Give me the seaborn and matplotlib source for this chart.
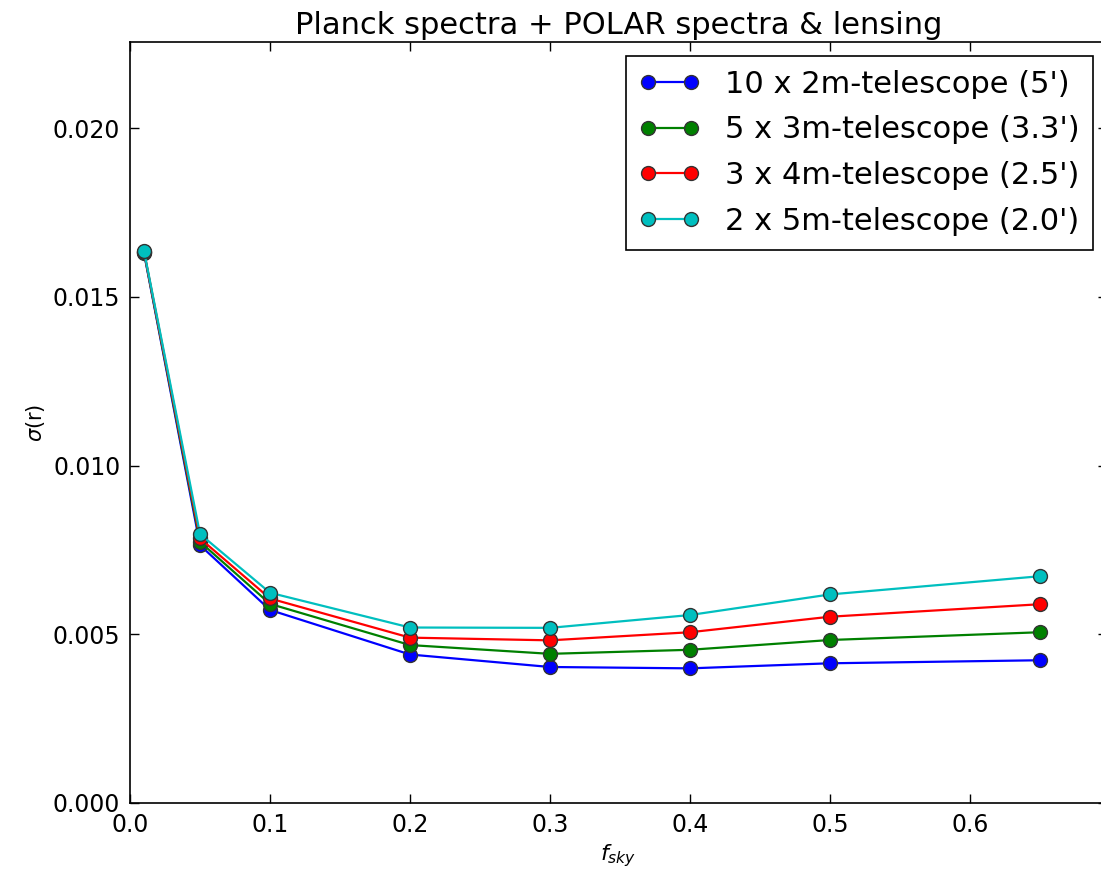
import numpy as np
import pandas as pd
import matplotlib
matplotlib.use("Agg")
import matplotlib.pyplot as plt
import seaborn as sns

fsky = [0.01, 0.05, 0.1, 0.2, 0.3, 0.4, 0.5, 0.65]
labels = ["10 x 2m-telescope (5')", "5 x 3m-telescope (3.3')",
          "3 x 4m-telescope (2.5')", "2 x 5m-telescope (2.0')"]
sigma_10x2m = [0.01630, 0.00764, 0.00572, 0.00440, 0.00403, 0.00399, 0.00414, 0.00423]
sigma_5x3m = [0.01632, 0.00774, 0.00590, 0.00468, 0.00442, 0.00454, 0.00483, 0.00506]
sigma_3x4m = [0.01634, 0.00784, 0.00606, 0.00490, 0.00482, 0.00506, 0.00552, 0.00589]
sigma_2x5m = [0.01636, 0.00797, 0.00623, 0.00520, 0.00519, 0.00557, 0.00618, 0.00672]
colors = [(0, 0, 1), (0, 0.5, 0), (1, 0, 0), (0, 0.75, 0.75)]
xtick_vals = [0.0, 0.1, 0.2, 0.3, 0.4, 0.5, 0.6]
xtick_labels = ["0.0", "0.1", "0.2", "0.3", "0.4", "0.5", "0.6"]
ytick_vals = [0.0, 0.005, 0.010, 0.015, 0.020]
ytick_labels = ["0.000", "0.005", "0.010", "0.015", "0.020"]

sns.set_style("white")
plt.rcParams['font.family'] = ['DejaVu Sans']
plt.rcParams['xtick.direction'] = 'in'
plt.rcParams['ytick.direction'] = 'in'
plt.rcParams['text.color'] = 'black'
plt.rcParams['axes.labelcolor'] = 'black'
plt.rcParams['xtick.color'] = 'black'
plt.rcParams['ytick.color'] = 'black'

fig = plt.figure(figsize=(11.01, 8.72), dpi=100)
# axes extend slightly past the right edge of the figure, as in the reference
ax = fig.add_axes([130/1101, 1 - 803/872, (1107-130)/1101, (803-42)/872])

for lab, ys, c in zip(labels, [sigma_10x2m, sigma_5x3m, sigma_3x4m, sigma_2x5m], colors):
    df = pd.DataFrame({"fsky": fsky, "sigma": ys})
    sns.lineplot(data=df, x="fsky", y="sigma", color=c, marker="o", markersize=10,
                 markeredgecolor="#333333", markeredgewidth=1.0, linewidth=1.6,
                 label=lab, ax=ax, estimator=None, sort=False)

ax.set_xlim(0, (1107-130)/1400)
ax.set_ylim(0, 0.02255)
ax.set_xticks(xtick_vals)
ax.set_xticklabels(xtick_labels)
ax.set_yticks(ytick_vals)
ax.set_yticklabels(ytick_labels)
ax.tick_params(axis='both', which='major', labelsize=17, length=6.5, width=1,
               top=True, right=True, bottom=True, left=True, color='black', pad=7)
for s in ax.spines.values():
    s.set_color('black')
    s.set_linewidth(1.2)

ax.set_xlabel("$f_{sky}$", fontsize=16)
ax.set_ylabel(r"$\sigma$(r)", fontsize=15)
ax.set_title("Planck spectra + POLAR spectra & lensing", fontsize=22, pad=6)

leg = ax.legend(loc="upper right", numpoints=2, fontsize=22, fancybox=False,
                frameon=True, borderpad=0.45, labelspacing=0.55, handlelength=2.0,
                handletextpad=0.8, borderaxespad=0.45)
leg.get_frame().set_edgecolor("black")
leg.get_frame().set_linewidth(1.2)
leg.get_frame().set_alpha(1)

fig.savefig("out.png", dpi=100)
